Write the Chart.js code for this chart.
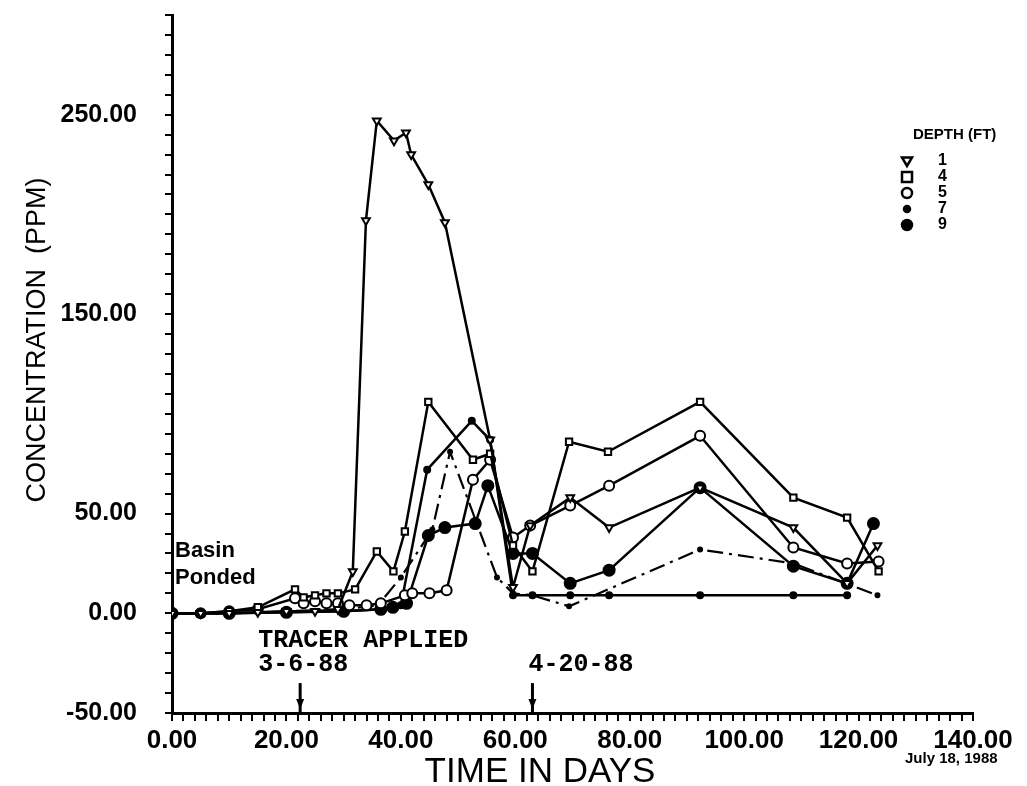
<!DOCTYPE html>
<html lang="en">
<head>
    <meta charset="UTF-8">
    <title>Concentration vs time</title>
    <script src="https://cdn.jsdelivr.net/npm/chart.js@4/dist/chart.umd.min.js"></script>
    <style>
        body { margin: 0; background: #fff; }
        .container { width: 1027px; height: 786px; }
    </style>
</head>
<body>
<div class="container">
    <canvas id="myChart" width="1027" height="786"></canvas>
</div>
<script>
// depth 1 ft (triangles)
var depth1Days = [0, 5, 10, 15, 20, 25, 29, 31.6, 33.9, 35.8, 38.8, 40.9, 41.8, 44.8, 47.7, 55.6, 59.6, 62.6, 69.6, 76.4, 92.3, 108.6, 118, 123.3];
var depth1Ppm  = [0, 0, 0, 0.5, 1, 1, 2, 21, 197, 247, 237, 241, 230, 215, 196, 87, 13, 44, 58, 43, 63, 43, 15, 34];
// depth 4 ft (squares)
var depth4Days = [0, 5, 10, 15, 21.5, 23, 25, 27, 29, 32, 35.8, 38.7, 40.7, 44.8, 52.6, 55.6, 59.6, 63, 69.4, 76.2, 92.3, 108.6, 118, 123.5];
var depth4Ppm  = [0, 0, 1, 3, 12, 8, 9, 10, 10, 12, 31, 21, 41, 106, 77, 80, 34, 21, 86, 81, 106, 58, 48, 21];
// depth 5 ft (open circles)
var depth5Days = [0, 5, 10, 15, 21.5, 23, 25, 27, 29, 31, 34, 36.5, 40.7, 42, 45, 48, 52.6, 55.6, 59.6, 62.6, 69.6, 76.4, 92.3, 108.6, 118, 123.5];
var depth5Ppm  = [0, 0, 1, 2, 7.5, 5, 6, 5, 5, 4, 4, 5, 9, 10, 10, 11.5, 67, 77, 38, 44, 54, 64, 89, 33, 25, 26];
// depth 7 ft (small dots)
var depth7Days = [0, 10, 20, 30, 36.5, 40, 44.6, 52.4, 55.6, 59.6, 63, 69.6, 76.4, 92.3, 108.6, 118];
var depth7Ppm  = [0, 0, 0.5, 1, 2, 4, 72, 96.5, 87, 9, 9, 9, 9, 9, 9, 9];
// depth 9 ft (large dots)
var depth9Days = [0, 10, 20, 30, 36.5, 38.6, 41, 44.8, 47.7, 53, 55.2, 59.6, 63, 69.6, 76.4, 92.3, 108.6, 118, 122.6];
var depth9Ppm  = [0, 0, 0.5, 1, 2, 3, 5, 39, 43, 45, 64, 30, 30, 15, 21.6, 63, 23.6, 15, 45];
// dash-dot curve
var dashDays = [0, 10, 20, 30, 36, 40, 45.5, 48.6, 56.8, 59.6, 63, 69.4, 92.3, 108.6, 123.3];
var dashPpm  = [0, 0, 1, 2, 4, 18, 42, 81, 18, 10, 9, 3.5, 32, 25, 9];

var depthLabels = ["1", "4", "5", "7", "9"];
var yTickLabels = [-50, 0, 50, 150, 250];
var xTickLabels = [0, 20, 40, 60, 80, 100, 120, 140];
var eventDays = [22.4, 63];
var eventLabels = ["3-6-88", "4-20-88"];

function pts(days, vals) {
    var out = [];
    for (var i = 0; i < days.length; i++) out.push({x: days[i], y: vals[i]});
    return out;
}

function series(label, days, vals, style, radius, fill, extra) {
    var ds = {
        label: label,
        data: pts(days, vals),
        borderColor: '#000',
        borderWidth: 2.5,
        pointStyle: style,
        pointRadius: radius,
        pointBorderColor: '#000',
        pointBorderWidth: 2,
        pointBackgroundColor: fill,
        tension: 0
    };
    for (var k in extra) ds[k] = extra[k];
    return ds;
}

var datasets = [
    series(depthLabels[0], depth1Days, depth1Ppm, 'triangle', 4.5, '#fff', {pointRotation: 180}),
    series(depthLabels[1], depth4Days, depth4Ppm, 'rect', 4.5, '#fff', {}),
    series(depthLabels[2], depth5Days, depth5Ppm, 'circle', 5, '#fff', {}),
    series(depthLabels[3], depth7Days, depth7Ppm, 'circle', 3, '#000', {}),
    series(depthLabels[4], depth9Days, depth9Ppm, 'circle', 5.5, '#000', {}),
    series('', dashDays, dashPpm, 'circle', 2, '#000', {borderDash: [16, 6, 3, 6], borderWidth: 2.2})
];

function drawMarker(ctx, style, x, y, r, fill) {
    ctx.save();
    ctx.lineWidth = 2.5;
    ctx.strokeStyle = '#000';
    ctx.fillStyle = fill;
    ctx.beginPath();
    if (style === 'triangle') {
        ctx.moveTo(x - r, y - r * 0.7);
        ctx.lineTo(x + r, y - r * 0.7);
        ctx.lineTo(x, y + r);
        ctx.closePath();
    } else if (style === 'rect') {
        ctx.rect(x - r, y - r, 2 * r, 2 * r);
    } else {
        ctx.arc(x, y, r, 0, Math.PI * 2);
    }
    ctx.fill();
    ctx.stroke();
    ctx.restore();
}

var annotations = {
    id: 'annotations',
    afterDraw: function(chart) {
        var ctx = chart.ctx;
        var xs = chart.scales.x, ys = chart.scales.y;
        ctx.save();
        ctx.fillStyle = '#000';
        ctx.strokeStyle = '#000';

        // axis titles
        ctx.font = '27px "Liberation Sans", Arial, sans-serif';
        ctx.textAlign = 'center';
        ctx.textBaseline = 'middle';
        ctx.save();
        ctx.translate(38, 340);
        ctx.rotate(-Math.PI / 2);
        ctx.fillText('CONCENTRATION  (PPM)', 0, 0);
        ctx.restore();
        ctx.font = '35px "Liberation Sans", Arial, sans-serif';
        ctx.textBaseline = 'alphabetic';
        ctx.fillText('TIME IN DAYS', 540, 782);

        // basin ponded note
        ctx.textAlign = 'left';
        ctx.font = 'bold 22px "Liberation Sans", Arial, sans-serif';
        ctx.fillText('Basin', 175, 557);
        ctx.fillText('Ponded', 175, 584);

        // tracer events
        ctx.font = 'bold 25px "Liberation Mono", "DejaVu Sans Mono", monospace';
        var x0 = xs.getPixelForValue(eventDays[0]);
        var x1 = xs.getPixelForValue(eventDays[1]);
        ctx.fillText('TRACER APPLIED', x0 - 42, 647);
        ctx.fillText(eventLabels[0], x0 - 42, 671);
        ctx.fillText(eventLabels[1], x1 - 4, 671);
        [x0, x1].forEach(function(ax) {
            var top = ys.getPixelForValue(-35);
            var bot = ys.getPixelForValue(-50);
            ctx.lineWidth = 3;
            ctx.beginPath();
            ctx.moveTo(ax, top);
            ctx.lineTo(ax, bot);
            ctx.stroke();
            ctx.beginPath();
            ctx.moveTo(ax - 4, bot - 14);
            ctx.lineTo(ax + 4, bot - 14);
            ctx.lineTo(ax, bot - 4);
            ctx.closePath();
            ctx.fill();
        });

        // date stamp
        ctx.font = 'bold 15px "Liberation Sans", Arial, sans-serif';
        ctx.fillText('July 18, 1988', 905, 763);

        // legend
        ctx.font = 'bold 15px "Liberation Sans", Arial, sans-serif';
        ctx.fillText('DEPTH (FT)', 913, 139);
        ctx.font = 'bold 16px "Liberation Sans", Arial, sans-serif';
        ctx.textBaseline = 'middle';
        for (var i = 0; i < depthLabels.length; i++) {
            var ds = chart.data.datasets[i];
            var ly = 161 + i * 16;
            var r = ds.pointStyle === 'circle' && ds.pointRadius < 4 ? 3 : 5;
            drawMarker(ctx, ds.pointStyle, 907, ly, r, ds.pointBackgroundColor);
            ctx.fillText(depthLabels[i], 938, ly);
        }
        ctx.restore();
    }
};

var ctx = document.getElementById('myChart').getContext('2d');
var myChart = new Chart(ctx, {
    type: 'line',
    data: { datasets: datasets },
    options: {
        responsive: false,
        animation: false,
        layout: { padding: { top: 15, right: 54, left: 0, bottom: 0 } },
        plugins: {
            legend: { display: false },
            tooltip: { enabled: false }
        },
        scales: {
            x: {
                type: 'linear',
                min: 0,
                max: 140,
                afterFit: function(scale) {
                    scale.height = 73;
                    scale.paddingLeft = 0;
                    scale.paddingRight = 0;
                },
                border: { display: true, color: '#000', width: 3 },
                grid: { drawOnChartArea: false, drawTicks: true, tickLength: 8, color: '#000', lineWidth: 2 },
                ticks: {
                    stepSize: 2,
                    autoSkip: false,
                    maxRotation: 0,
                    padding: 4,
                    color: '#000',
                    font: { family: '"Liberation Sans", Arial, sans-serif', size: 26, weight: 'bold' },
                    callback: function(v) { return xTickLabels.indexOf(v) >= 0 ? v.toFixed(2) : ''; }
                }
            },
            y: {
                min: -50,
                max: 300,
                afterFit: function(scale) {
                    scale.width = 172;
                    scale.paddingTop = 0;
                    scale.paddingBottom = 0;
                },
                border: { display: true, color: '#000', width: 3 },
                grid: { drawOnChartArea: false, drawTicks: true, tickLength: 7, color: '#000', lineWidth: 2 },
                ticks: {
                    stepSize: 10,
                    autoSkip: false,
                    padding: 28,
                    color: '#000',
                    font: { family: '"Liberation Sans", Arial, sans-serif', size: 25, weight: 'bold' },
                    callback: function(v) { return yTickLabels.indexOf(v) >= 0 ? v.toFixed(2) : ''; }
                }
            }
        }
    },
    plugins: [annotations]
});
</script>
</body>
</html>
